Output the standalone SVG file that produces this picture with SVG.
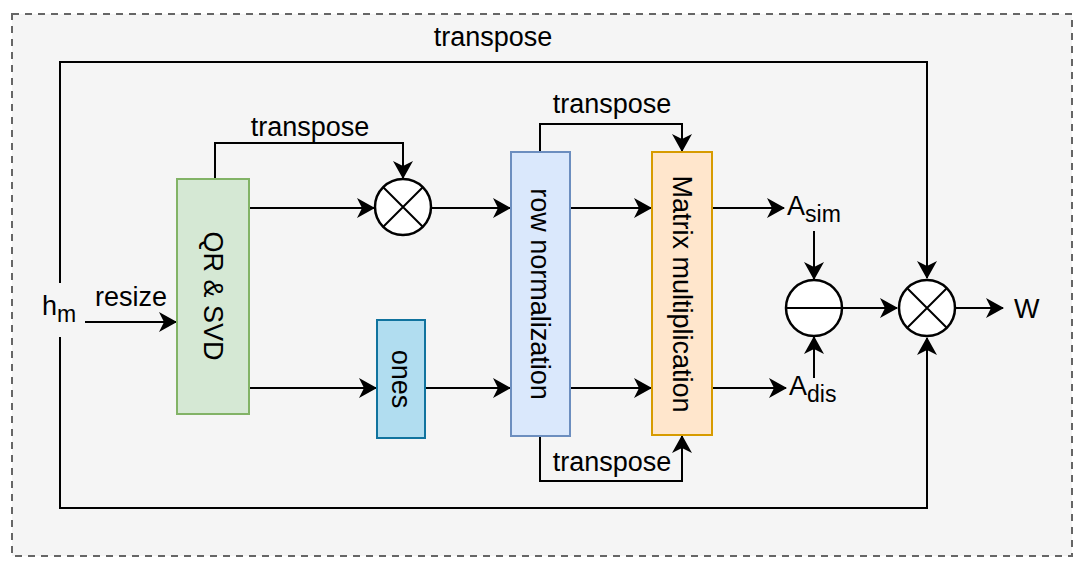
<svg xmlns="http://www.w3.org/2000/svg" width="1089" height="569" viewBox="0 0 1089 569">
<style>
text{font-family:"Liberation Sans",Arial,sans-serif;font-size:27px;fill:#000}
.sub{font-size:23px}
.ln{fill:none;stroke:#000;stroke-width:2}
.arr{marker-end:url(#ah)}
.op{fill:#fff;stroke:#000;stroke-width:2.5}
</style>
<defs>
<marker id="ah" markerUnits="userSpaceOnUse" viewBox="0 0 18 20" markerWidth="18" markerHeight="20" refX="17" refY="10" orient="auto">
<path d="M0,0 L18,10 L0,20 L5,10 Z" fill="#000"/>
</marker>
</defs>
<rect x="12" y="14" width="1060" height="542" fill="#f5f5f5" stroke="#666" stroke-width="2" stroke-dasharray="7 6"/>
<g id="connectors">
<path class="ln" d="M60,283 V62 H927 V278" marker-end="url(#ah)"/>
<path class="ln" d="M60,337 V508 H927 V338" marker-end="url(#ah)"/>
<path class="ln arr" d="M85,322 H176"/>
<path class="ln arr" d="M215,179 V143 H403 V178"/>
<path class="ln arr" d="M249,208 H374"/>
<path class="ln arr" d="M431,208 H510"/>
<path class="ln arr" d="M249,388 H376"/>
<path class="ln arr" d="M425,388 H510"/>
<path class="ln arr" d="M540,152 V124 H682 V151"/>
<path class="ln arr" d="M540,436 V481 H682 V436"/>
<path class="ln arr" d="M570,208 H651"/>
<path class="ln arr" d="M570,388 H651"/>
<path class="ln arr" d="M712,208 H784"/>
<path class="ln arr" d="M712,388 H786"/>
<path class="ln arr" d="M814,231 V279"/>
<path class="ln arr" d="M814,378 V337"/>
<path class="ln arr" d="M842,308 H897"/>
<path class="ln arr" d="M956,308 H1003"/>
</g>
<g id="labels">
<text x="493" y="46" text-anchor="middle">transpose</text>
<text x="310" y="136" text-anchor="middle">transpose</text>
<text x="612" y="113" text-anchor="middle">transpose</text>
<text x="612" y="471" text-anchor="middle">transpose</text>
<text x="131" y="306" text-anchor="middle">resize</text>
</g>
<g id="hm"><text x="42" y="315">h<tspan class="sub" dy="7">m</tspan></text></g>
<g id="qr">
<rect x="177" y="179" width="72" height="235" fill="#d5e8d4" stroke="#82b366" stroke-width="2"/>
<text transform="translate(213,296) rotate(90)" text-anchor="middle" dy="9">QR &amp; SVD</text>
</g>
<g id="mul1">
<circle class="op" cx="403" cy="207" r="28"/>
<path class="ln" d="M383,187 L423,227 M423,187 L383,227"/>
</g>
<g id="ones">
<rect x="377" y="320" width="48" height="118" fill="#b1ddf0" stroke="#10739e" stroke-width="2"/>
<text transform="translate(401,379) rotate(90)" text-anchor="middle" dy="9">ones</text>
</g>
<g id="rownorm">
<rect x="511" y="152" width="59" height="284" fill="#dae8fc" stroke="#6c8ebf" stroke-width="2"/>
<text transform="translate(540,294) rotate(90)" text-anchor="middle" dy="9">row normalization</text>
</g>
<g id="matmul">
<rect x="652" y="152" width="60" height="283" fill="#ffe6cc" stroke="#d79b00" stroke-width="2"/>
<text transform="translate(682,294) rotate(90)" text-anchor="middle" dy="9">Matrix multiplication</text>
</g>
<g id="asim"><text x="787" y="215">A<tspan class="sub" dy="7">sim</tspan></text></g>
<g id="adis"><text x="789" y="395">A<tspan class="sub" dy="7">dis</tspan></text></g>
<g id="minus">
<circle class="op" cx="814" cy="308" r="28"/>
<path class="ln" d="M786,308 H842"/>
</g>
<g id="mul2">
<circle class="op" cx="927" cy="308" r="28"/>
<path class="ln" d="M907,288 L947,328 M947,288 L907,328"/>
</g>
<g id="w"><text x="1014" y="318">W</text></g>
</svg>
